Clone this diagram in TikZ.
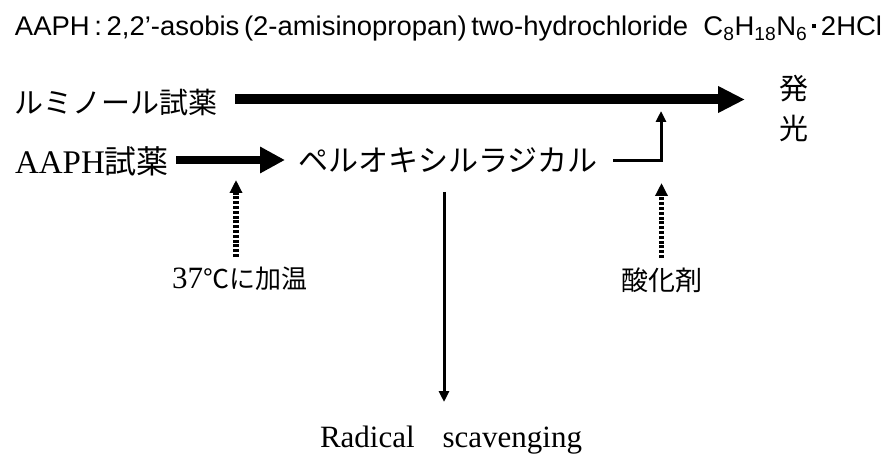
\documentclass[tikz,border=0pt]{standalone}
\usepackage{fontspec}
\setmainfont{Liberation Serif}
\newfontfamily\cjk{Noto Sans CJK JP}
\newfontfamily\arial{Liberation Sans}
\usetikzlibrary{arrows.meta}
\begin{document}
\begin{tikzpicture}[x=1pt,y=-1pt,
  lbl/.style={inner sep=0pt, outer sep=0pt, font=\cjk},
  bigarrow/.style={line width=10pt, -{Triangle[length=27pt,width=25pt]}},
  midarrow/.style={line width=8pt, -{Triangle[length=25pt,width=25pt]}},
  thinarrow/.style={line width=3pt, -{Triangle[length=11pt,width=10pt]}},
  dotarrow/.style={line width=5.5pt, dash pattern=on 3pt off 1.8pt, -{Triangle[length=13pt,width=12pt]}}]
\useasboundingbox (0,0) rectangle (888,454);
% texts
\node[lbl, anchor=base west] (title) at (15,36) {\resizebox{867pt}{\height}{\arial\fontsize{27}{30}\selectfont AAPH\,:\,2,2’-asobis\,(2-amisinopropan)\,two-hydrochloride\ \ C\textsubscript{8}H\textsubscript{18}N\textsubscript{6}\,\raisebox{0.28em}{\rule{0.16em}{0.16em}}\,2HCl}};
\node[lbl, anchor=west, font=\cjk\fontsize{29}{32}\selectfont] (lum) at (14,102.5) {ルミノール試薬};
\node[lbl, anchor=west, font=\cjk\fontsize{32}{35}\selectfont] (aaph) at (15,161.5) {{\rmfamily\fontsize{33}{36}\selectfont AAPH}試薬};
\node[lbl, anchor=west, font=\cjk\fontsize{30}{33}\selectfont] (perox) at (298,160) {ペルオキシルラジカル};
\node[lbl, font=\cjk\fontsize{29}{32}\selectfont] (hatsu) at (794,89) {発};
\node[lbl, font=\cjk\fontsize{29}{32}\selectfont] (kou) at (794,128) {光};
\node[lbl, anchor=west, font=\cjk\fontsize{26}{30}\selectfont] (heat) at (172,279) {{\rmfamily\fontsize{31}{34}\selectfont 37}℃に加温};
\node[lbl, anchor=west, font=\cjk\fontsize{27}{30}\selectfont] (oxid) at (621,280) {酸化剤};
\node[lbl, anchor=base west, font=\rmfamily\fontsize{31}{34}\selectfont] (rad) at (320,447) {Radical\hspace{0.9em}scavenging};
% connector points
\coordinate (lumS) at (235,99.5);
\coordinate (lumE) at (745,99.5);
\coordinate (aaphS) at (176,160);
\coordinate (aaphE) at (285,160);
\coordinate (perS) at (613,161);
\coordinate (perK) at (661,161);
\coordinate (perE) at (661,111);
\coordinate (radS) at (444,192);
\coordinate (radE) at (444,402);
\coordinate (heatS) at (236,257);
\coordinate (heatE) at (236,180);
\coordinate (oxS) at (661.5,258);
\coordinate (oxE) at (661.5,183);
% connectors
\draw[bigarrow] (lumS) -- (lumE);
\draw[midarrow] (aaphS) -- (aaphE);
\draw[thinarrow] (perS) -- (perK) -- (perE);
\draw[thinarrow] (radS) -- (radE);
\draw[dotarrow] (heatS) -- (heatE);
\draw[dotarrow] (oxS) -- (oxE);
\end{tikzpicture}
\end{document}
